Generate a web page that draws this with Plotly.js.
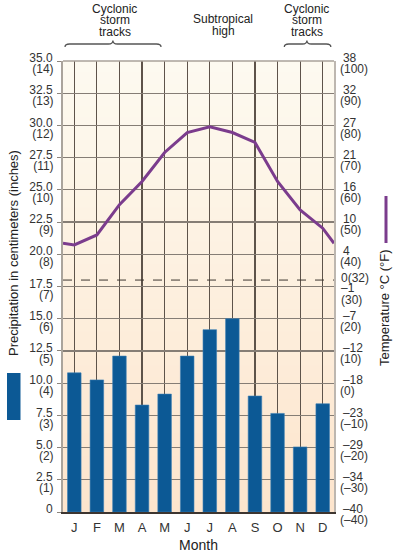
<!DOCTYPE html>
<html>
<head>
<meta charset="utf-8">
<script src="https://cdn.plot.ly/plotly-3.0.1.min.js"></script>
<style>html,body{margin:0;padding:0;background:#fff;}#chart{width:396px;height:555px;}</style>
</head>
<body>
<div id="chart"></div>
<script>
// ---- data ----
const months = ['J','F','M','A','M','J','J','A','S','O','N','D'];
const precipCm = [10.8, 10.25, 12.1, 8.3, 9.15, 12.1, 14.15, 15.0, 9.0, 7.65, 5.05, 8.4];
const tempF = [42.9, 46.0, 55.4, 62.6, 71.6, 77.8, 79.6, 77.8, 74.7, 62.6, 53.8, 48.1];
const tempEdgeF = 43.4; // value where the line meets both plot edges (Dec→Jan wrap)

const cmTicks = [0, 2.5, 5, 7.5, 10, 12.5, 15, 17.5, 20, 22.5, 25, 27.5, 30, 32.5, 35];
const cmTickText = ['0', '2.5', '5.0', '7.5', '10.0', '12.5', '15.0', '17.5', '20.0', '22.5', '25.0', '27.5', '30.0', '32.5', '35.0'];
const inchTicks = [1, 2, 3, 4, 5, 6, 7, 8, 9, 10, 11, 12, 13, 14];
const inchTickText = ['(1)', '(2)', '(3)', '(4)', '(5)', '(6)', '(7)', '(8)', '(9)', '(10)', '(11)', '(12)', '(13)', '(14)'];
const fTicks = [-40, -30, -20, -10, 0, 10, 20, 40, 50, 60, 70, 80, 90, 100];
const cTickText = ['–40', '–34', '–29', '–23', '–18', '–12', '–7', '4', '10', '16', '21', '27', '32', '38'];
const fTickText = ['(–40)', '(–30)', '(–20)', '(–10)', '(0)', '(10)', '(20)', '(40)', '(50)', '(60)', '(70)', '(80)', '(90)', '(100)'];
const freezeF = 32;
const thirtyF = 30;

const regions = [
  {lines: ['Cyclonic', 'storm', 'tracks'], x: 1.8, brace: [-0.41, 3.84], tip: 1.71},
  {lines: ['Subtropical', 'high'], x: 6.6, brace: null},
  {lines: ['Cyclonic', 'storm', 'tracks'], x: 10.3, brace: [9.3, 11.36], tip: 10.3}
];

// ---- geometry helpers (pixel layout) ----
const W = 396, H = 555;
const M = {l: 63, r: 62, t: 61, b: 43};
const PW = W - M.l - M.r, PH = H - M.t - M.b;
const px2py = (py) => (H - M.b - py) / PH;   // pixel y -> paper y
const px2pxp = (px) => (px - M.l) / PW;       // pixel x -> paper x

const xIdx = months.map((_, i) => i);
const font = 'Liberation Sans, Arial, Helvetica, sans-serif';

const bars = {
  type: 'bar', x: xIdx, y: precipCm, width: 0.6, yaxis: 'y',
  marker: {color: '#0c5995', line: {color: '#3b7db4', width: 0.6}},
  hoverinfo: 'skip'
};
const line = {
  type: 'scatter', mode: 'lines',
  x: [-0.5].concat(xIdx, [11.5]),
  y: [tempEdgeF].concat(tempF, [tempEdgeF]),
  yaxis: 'y2', line: {color: '#7b3c8d', width: 3}, hoverinfo: 'skip', cliponaxis: true
};

// background gradient bands
const shapes = [];
const nb = 40;
const c0 = [253, 229, 205], c1 = [253, 250, 240];
for (let i = 0; i < nb; i++) {
  const t = i / (nb - 1);
  const c = c0.map((v, k) => Math.round(v + (c1[k] - v) * t));
  shapes.push({type: 'rect', layer: 'below', xref: 'paper', yref: 'paper',
    x0: 0, x1: 1, y0: i / nb, y1: Math.min(1, (i + 1.1) / nb),
    fillcolor: 'rgb(' + c.join(',') + ')', line: {width: 0}});
}
// top border
shapes.push({type: 'line', xref: 'paper', yref: 'paper', x0: 0, x1: 1, y0: 1, y1: 1, line: {color: '#a8a29a', width: 1.5}});
// freezing dashed line
shapes.push({type: 'line', xref: 'paper', yref: 'y2', x0: 0, x1: 1, y0: freezeF, y1: freezeF, line: {color: '#3d3630', width: 1, dash: 'dash'}});
// braces
const yEnd = px2py(47), yBar = px2py(44), yTip = px2py(40.5);
regions.forEach(r => {
  if (!r.brace) return;
  const a = r.brace[0], b = r.brace[1], m = r.tip, d = 0.2;
  const p = `M ${a},${yEnd} Q ${a},${yBar} ${a + d},${yBar} L ${m - d},${yBar} Q ${m},${yBar} ${m},${yTip} Q ${m},${yBar} ${m + d},${yBar} L ${b - d},${yBar} Q ${b},${yBar} ${b},${yEnd}`;
  shapes.push({type: 'path', xref: 'x', yref: 'paper', path: p, line: {color: '#555', width: 1.3}});
});
// legend swatches
shapes.push({type: 'rect', xref: 'paper', yref: 'paper', x0: px2pxp(7), x1: px2pxp(20.5), y0: px2py(420), y1: px2py(373), fillcolor: '#0c5995', line: {width: 0}});
shapes.push({type: 'line', xref: 'paper', yref: 'paper', x0: px2pxp(386), x1: px2pxp(386), y0: px2py(243), y1: px2py(196), line: {color: '#7b3c8d', width: 3}});

const annotations = [];
const lineY = {3: [9, 20.5, 32], 2: [19, 30.5]};
regions.forEach(r => {
  const ys = lineY[r.lines.length];
  r.lines.forEach((t, k) => {
    annotations.push({text: t, xref: 'x', yref: 'paper', x: r.x, y: px2py(ys[k]), showarrow: false,
      xanchor: 'center', yanchor: 'middle', font: {family: font, size: 12, color: '#222'}});
  });
});
annotations.push({text: 'Precipitation in centimeters (inches)', textangle: -90, xref: 'paper', yref: 'paper',
  x: px2pxp(13), y: px2py(253), showarrow: false, xanchor: 'center', yanchor: 'middle', font: {family: font, size: 13, color: '#222'}});
annotations.push({text: 'Temperature °C (°F)', textangle: -90, xref: 'paper', yref: 'paper',
  x: px2pxp(384), y: px2py(308), showarrow: false, xanchor: 'center', yanchor: 'middle', font: {family: font, size: 13, color: '#222'}});
const rf = {family: font, size: 12, color: '#333'};
annotations.push({text: '0(32)', xref: 'paper', yref: 'y2', x: 1, xshift: 5, y: freezeF, yshift: 2, showarrow: false, xanchor: 'left', yanchor: 'middle', font: rf});
annotations.push({text: '–1', xref: 'paper', yref: 'y2', x: 1, xshift: 5, y: thirtyF, yshift: -1.5, showarrow: false, xanchor: 'left', yanchor: 'middle', font: rf});
annotations.push({text: '(30)', xref: 'paper', yref: 'y2', x: 1, xshift: 5, y: thirtyF, yshift: -13.5, showarrow: false, xanchor: 'left', yanchor: 'middle', font: rf});

const tf = {family: font, size: 12, color: '#333'};
const layout = {
  width: W, height: H, margin: M,
  paper_bgcolor: '#ffffff', plot_bgcolor: '#fdf2e4',
  showlegend: false, bargap: 0.4,
  font: {family: font, color: '#222'},
  xaxis: {range: [-0.5, 11.5], tickvals: xIdx, ticktext: months, showgrid: true, gridcolor: '#5e534a', gridwidth: 1.1,
    zeroline: false, showline: true, linecolor: '#3d3530', linewidth: 1.5, ticks: '', ticklabelstandoff: 3,
    tickfont: {family: font, size: 13, color: '#333'},
    title: {text: 'Month', font: {family: font, size: 14, color: '#222'}, standoff: 6}},
  yaxis: {range: [0, 35], tickvals: cmTicks, ticktext: cmTickText, showgrid: true, gridcolor: '#857d75', gridwidth: 1.2,
    zeroline: false, showline: true, linecolor: '#aaa49c', linewidth: 2, ticks: 'outside', ticklen: 4, tickcolor: '#8d857c',
    ticklabelshift: -3, ticklabelstandoff: 2, tickfont: tf},
  yaxis3: {range: [0, 14], overlaying: 'y', side: 'left', anchor: 'x', tickvals: inchTicks, ticktext: inchTickText,
    showgrid: false, zeroline: false, showline: false, ticks: 'outside', ticklen: 4, tickcolor: 'rgba(0,0,0,0)',
    ticklabelshift: 8, ticklabelstandoff: 2, tickfont: tf},
  yaxis2: {range: [-40, 100], overlaying: 'y', side: 'right', anchor: 'x', tickvals: fTicks, ticktext: cTickText,
    showgrid: false, zeroline: false, showline: true, linecolor: '#bdb7b0', linewidth: 1.5, ticks: '',
    ticklabelshift: -3, ticklabelstandoff: 5, tickfont: tf},
  yaxis4: {range: [-40, 100], overlaying: 'y', side: 'right', anchor: 'x', tickvals: fTicks, ticktext: fTickText,
    showgrid: false, zeroline: false, showline: false, ticks: '',
    ticklabelshift: 8, ticklabelstandoff: 5, tickfont: tf},
  shapes: shapes, annotations: annotations
};
// invisible traces so the extra axes render
const ghost3 = {type: 'scatter', x: [], y: [], yaxis: 'y3', hoverinfo: 'skip'};
const ghost4 = {type: 'scatter', x: [], y: [], yaxis: 'y4', hoverinfo: 'skip'};
Plotly.newPlot('chart', [bars, line, ghost3, ghost4], layout, {staticPlot: true, displayModeBar: false});
</script>
</body>
</html>
